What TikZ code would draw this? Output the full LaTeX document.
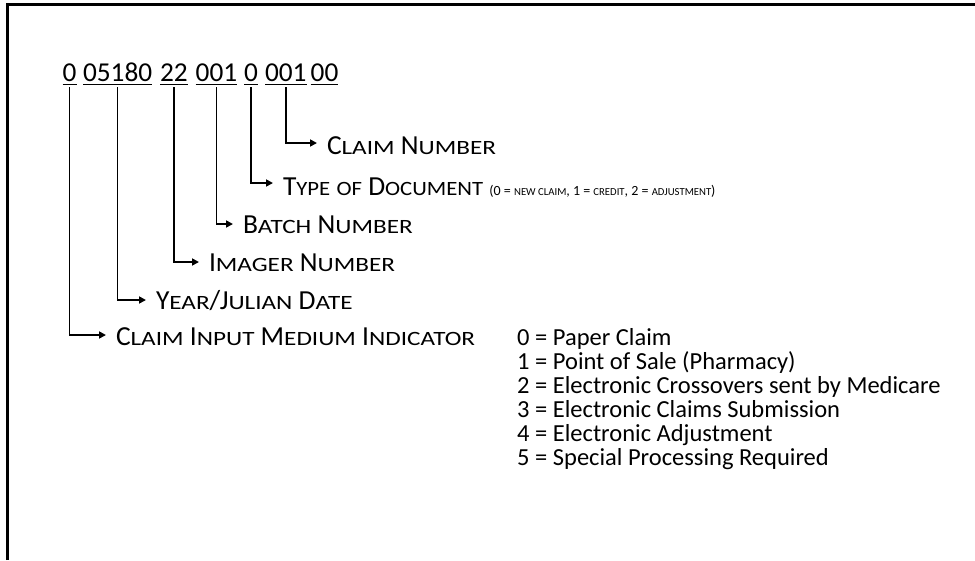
\documentclass[tikz,border=0pt]{standalone}
\usepackage{fontspec}
\setmainfont{Carlito}
\newfontfamily\scf[FakeStretch=1.24]{Carlito}
\newfontfamily\scg[FakeStretch=1.12]{Carlito}
\usetikzlibrary{arrows.meta}
\newcommand\smc[1]{{\scf\fontsize{20.3}{20.3}\selectfont #1}}
\newcommand\smg[1]{{\scg\fontsize{20.3}{20.3}\selectfont #1}}
\newcommand\smcs[1]{{\fontsize{10.7}{10.7}\selectfont #1}}
\begin{document}
\begin{tikzpicture}[x=1pt,y=-1pt,
  digits/.style={inner sep=0pt, outer sep=0pt, anchor=base west, font=\fontsize{27.3}{27.3}\selectfont},
  lab/.style={inner sep=0pt, outer sep=0pt, anchor=base west, font=\fontsize{27.5}{27.5}\selectfont},
  item/.style={inner sep=0pt, anchor=base west, font=\fontsize{24.5}{24.5}\selectfont},
  conn/.style={line width=1.7pt, -{Triangle[length=7pt,width=7pt]}, shorten >=10pt},
  uline/.style={line width=1.7pt},
  frame/.style={line width=2.2pt}]
\useasboundingbox (0,0) rectangle (975,560);
\draw[frame] (7.5,560) -- (7.5,4.5) -- (975,4.5);

% digit groups
\node[digits] (g1) at (62.7,81) {0};
\node[digits] (g2) at (83,81) {05180};
\node[digits] (g3) at (160,81) {22};
\node[digits] (g4) at (195.7,81) {001};
\node[digits] (g5) at (244,81) {0};
\node[digits] (g6) at (265,81) {001};
\node[digits] (g7) at (310.7,81) {00};
\foreach \g in {g1,g2,g3,g4,g5,g6,g7}
  \draw[uline] ([yshift=-3.5pt]\g.base west) -- ([yshift=-3.5pt]\g.base east);

% labels
\node[lab] (l1) at (327,154) {C\smc{LAIM} N\smc{UMBER}};
\node[lab] (l2) at (283,195) {T\smg{YPE} \smg{OF} D\smg{OCUMENT} {\fontsize{14}{14}\selectfont (0 = \smcs{NEW CLAIM}, 1 = \smcs{CREDIT}, 2 = \smcs{ADJUSTMENT})}};
\node[lab] (l3) at (243,233) {B\smc{ATCH} N\smc{UMBER}};
\node[lab] (l4) at (209,271) {I\smc{MAGER} N\smc{UMBER}};
\node[lab] (l5) at (156,309) {Y\smc{EAR}/J\smc{ULIAN} D\smc{ATE}};
\node[lab] (l6) at (116,345) {C\smc{LAIM} I\smc{NPUT} M\smc{EDIUM} I\smc{NDICATOR}};

% connectors
\draw[conn] ([yshift=-6pt]g6.base) |- ([yshift=11pt]l1.base west);
\draw[conn] ([yshift=-6pt]g5.base) |- ([yshift=12pt]l2.base west);
\draw[conn] ([yshift=-6pt]g4.base) |- ([yshift=9pt]l3.base west);
\draw[conn] ([yshift=-6pt]g3.base) |- ([yshift=9pt]l4.base west);
\draw[conn] ([yshift=-6pt]g2.base) |- ([yshift=9pt]l5.base west);
\draw[conn] ([yshift=-6pt]g1.base) |- ([yshift=10pt]l6.base west);

% list
\node[item] (i0) at (517,345) {0 = Paper Claim};
\node[item] (i1) at (517,369) {1 = Point of Sale (Pharmacy)};
\node[item] (i2) at (517,393) {2 = Electronic Crossovers sent by Medicare};
\node[item] (i3) at (517,417) {3 = Electronic Claims Submission};
\node[item] (i4) at (517,441) {4 = Electronic Adjustment};
\node[item] (i5) at (517,465) {5 = Special Processing Required};
\end{tikzpicture}
\end{document}
